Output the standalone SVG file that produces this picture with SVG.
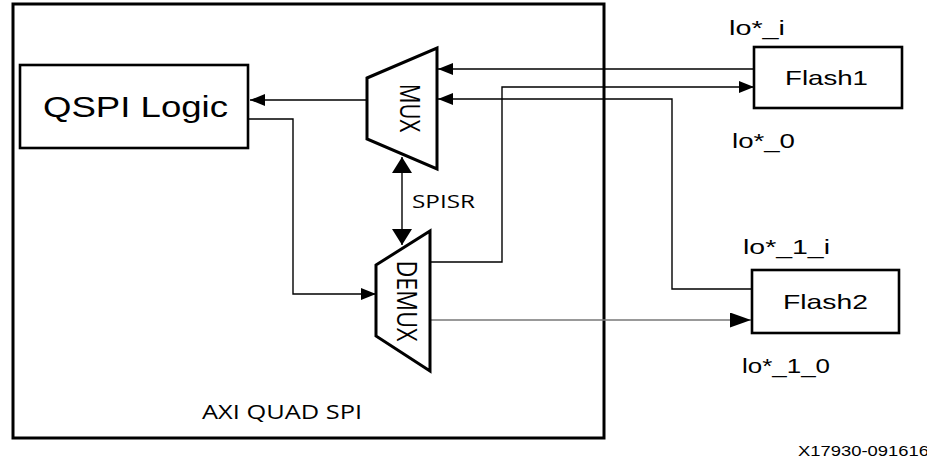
<svg xmlns="http://www.w3.org/2000/svg" width="927" height="461" viewBox="0 0 927 461">
<style>
.box{fill:#fff;stroke:#000;stroke-width:2.6}
.outer{fill:none;stroke:#000;stroke-width:3}
.trap{fill:#fff;stroke:#000;stroke-width:3;stroke-linejoin:miter}
.wire{fill:none;stroke:#000;stroke-width:1.4}
.gwire{fill:none;stroke:#777;stroke-width:1.4}
.ar{font-family:"Liberation Sans",Arial,sans-serif;fill:#000}
.os{font-family:"Open Sans","DejaVu Sans",sans-serif;fill:#000}
</style>
<defs>
<marker id="arr" markerUnits="userSpaceOnUse" markerWidth="15" markerHeight="12" refX="15" refY="6" orient="auto"><path d="M0,0 L15,6 L0,12 z" fill="#000"/></marker>
<marker id="arrB" markerUnits="userSpaceOnUse" markerWidth="16" markerHeight="20" refX="16" refY="10" orient="auto-start-reverse"><path d="M0,0 L16,10 L0,20 z" fill="#000"/></marker>
<marker id="arrXL" markerUnits="userSpaceOnUse" markerWidth="21" markerHeight="15" refX="21" refY="7.5" orient="auto"><path d="M0,0 L21,7.5 L0,15 z" fill="#000"/></marker>
</defs>
<rect x="0" y="0" width="927" height="461" fill="#fff"/>
<g id="axi-quad-spi">
<rect class="outer" x="13" y="4" width="591" height="434"/>
<text class="os" x="202" y="419" font-size="20" textLength="160" lengthAdjust="spacingAndGlyphs">AXI QUAD SPI</text>
</g>
<g id="connectors">
<path class="wire" d="M367,100 H250" marker-end="url(#arr)"/>
<path class="wire" d="M248,119 H293 V294 H376" marker-end="url(#arr)"/>
<path class="wire" d="M402,157 V245" marker-start="url(#arrB)" marker-end="url(#arrB)"/>
<path class="wire" d="M754,69 H438" marker-end="url(#arr)"/>
<path class="wire" d="M430,262 H502 V87 H754" marker-end="url(#arr)"/>
<path class="wire" d="M752,289 H672 V99 H438" marker-end="url(#arr)"/>
<path class="gwire" d="M430,320 H751" marker-end="url(#arrXL)"/>
<text class="os" x="412" y="208" font-size="19" textLength="63" lengthAdjust="spacingAndGlyphs">SPISR</text>
<text class="ar" x="729" y="34.5" font-size="21" textLength="56" lengthAdjust="spacingAndGlyphs">lo*_i</text>
<text class="ar" x="732" y="147.5" font-size="21" textLength="63" lengthAdjust="spacingAndGlyphs">lo*_0</text>
<text class="ar" x="743" y="253.5" font-size="21" textLength="87" lengthAdjust="spacingAndGlyphs">lo*_1_i</text>
<text class="ar" x="742" y="372.5" font-size="21" textLength="88" lengthAdjust="spacingAndGlyphs">lo*_1_0</text>
</g>
<g id="qspi-logic">
<rect class="box" x="20" y="65" width="228" height="83"/>
<text class="ar" x="43" y="117" font-size="30" textLength="185" lengthAdjust="spacingAndGlyphs">QSPI Logic</text>
</g>
<g id="mux">
<polygon class="trap" points="367,78 437,48 437,169 367,139"/>
<text class="os" transform="translate(410,108) rotate(90) scale(1,1.25)" x="0" y="8" font-size="22" text-anchor="middle">MUX</text>
</g>
<g id="demux">
<polygon class="trap" points="376,265 430,231 430,371 376,336"/>
<text class="os" transform="translate(407,301) rotate(90) scale(1,1.25)" x="-40.5" y="8" font-size="22" textLength="81" lengthAdjust="spacingAndGlyphs">DEMUX</text>
</g>
<g id="flash1">
<rect class="box" x="754" y="47" width="148" height="61"/>
<text class="ar" x="785" y="85" font-size="21" textLength="83" lengthAdjust="spacingAndGlyphs">Flash1</text>
</g>
<g id="flash2">
<rect class="box" x="752" y="270" width="147" height="63"/>
<text class="ar" x="783" y="309" font-size="21" textLength="85" lengthAdjust="spacingAndGlyphs">Flash2</text>
</g>
<text class="ar" x="798" y="456" font-size="14" textLength="131" lengthAdjust="spacingAndGlyphs">X17930-091616</text>
</svg>
